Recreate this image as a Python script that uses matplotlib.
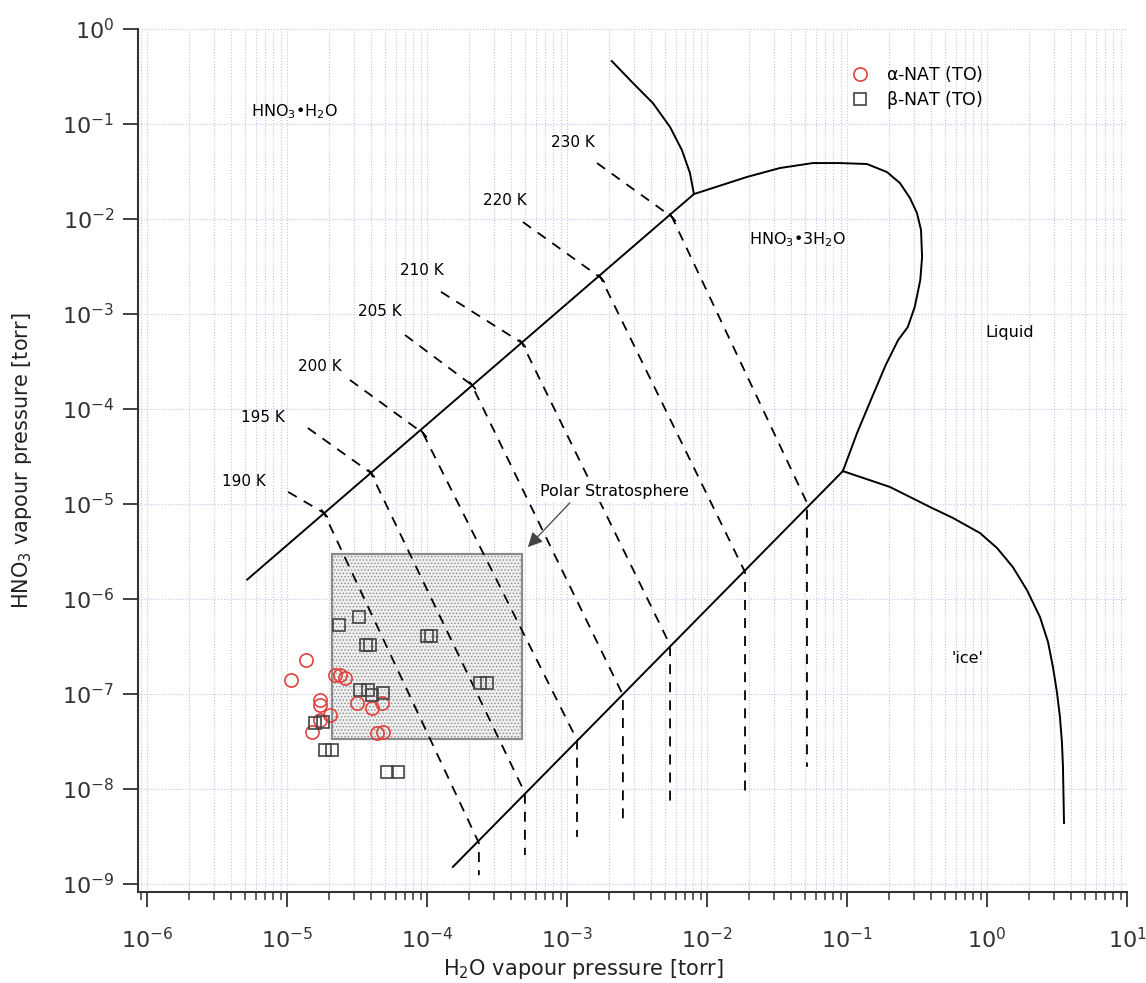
import numpy as np
import matplotlib
matplotlib.use('Agg')
import matplotlib.pyplot as plt
from matplotlib.patches import Rectangle

plt.rcParams['font.family'] = ['DejaVu Sans']
plt.rcParams['mathtext.default'] = 'regular'
plt.rcParams['hatch.linewidth'] = 0.6

# Phasegrenzen (torr)
nam_nat_x = [5.2e-6, 8.07e-3]
nam_nat_y = [1.6e-6, 1.83e-2]

liq_nam_x = [2.09e-3, 2.96e-3, 4.11e-3, 5.45e-3, 6.62e-3, 7.56e-3, 8.07e-3]
liq_nam_y = [0.46, 0.270, 0.166, 0.093, 0.0532, 0.0305, 0.0183]

liq_nat_x = [8.07e-3, 1.10e-2, 1.93e-2, 3.32e-2, 5.71e-2, 8.91e-2, 0.139, 0.193, 0.239,
             0.282, 0.316, 0.338, 0.344, 0.334, 0.305, 0.272, 0.232, 0.189, 0.148,
             0.118, 9.35e-2]
liq_nat_y = [1.83e-2, 2.12e-2, 2.77e-2, 3.44e-2, 3.88e-2, 3.88e-2, 3.79e-2, 3.12e-2, 2.39e-2,
             1.66e-2, 1.16e-2, 7.66e-3, 3.98e-3, 2.28e-3, 1.19e-3, 7.29e-4, 5.32e-4, 2.90e-4,
             1.24e-4, 5.58e-5, 2.22e-5]

nat_ice_x = [1.53e-4, 9.35e-2]
nat_ice_y = [1.51e-9, 2.22e-5]

ice_liq_x = [9.35e-2, 0.203, 0.392, 0.571, 0.891, 1.18, 1.53, 1.93, 2.39, 2.73, 2.96,
             3.16, 3.32, 3.43, 3.49, 3.55]
ice_liq_y = [2.22e-5, 1.51e-5, 9.29e-6, 7.13e-6, 4.95e-6, 3.44e-6, 2.17e-6, 1.24e-6, 6.47e-7,
             3.52e-7, 1.92e-7, 1.05e-7, 5.73e-8, 3.13e-8, 1.71e-8, 4.39e-9]

# Isothermen: begin, kruising NAM/NAT, kruising NAT/ijs, eind
iso_labels = ['190 K', '195 K', '200 K', '205 K', '210 K', '220 K', '230 K']
iso_x = [
    [1.02e-5, 1.84e-5, 2.35e-4, 2.35e-4],
    [1.41e-5, 3.98e-5, 5.01e-4, 5.01e-4],
    [2.82e-5, 9.35e-5, 1.18e-3, 1.18e-3],
    [6.97e-5, 2.09e-4, 2.51e-3, 2.51e-3],
    [1.26e-4, 4.78e-4, 5.45e-3, 5.45e-3],
    [4.85e-4, 1.75e-3, 1.87e-2, 1.87e-2],
    [1.64e-3, 5.62e-3, 5.18e-2, 5.18e-2],
]
iso_y = [
    [1.34e-5, 8.04e-6, 2.70e-9, 1.24e-9],
    [6.31e-5, 2.12e-5, 9.08e-9, 2.02e-9],
    [2.02e-4, 5.58e-5, 3.28e-8, 3.13e-9],
    [6.01e-4, 1.79e-4, 9.75e-8, 4.50e-9],
    [1.71e-3, 4.95e-4, 3.28e-7, 7.13e-9],
    [9.29e-3, 2.39e-3, 1.92e-6, 9.08e-9],
    [3.88e-2, 1.05e-2, 1.03e-5, 1.71e-8],
]
iso_label_x = [4.93e-6, 6.75e-6, 1.72e-5, 4.61e-5, 9.2e-5, 3.61e-4, 1.10e-3]
iso_label_y = [1.71e-5, 8.04e-5, 2.77e-4, 1.05e-3, 2.9e-3, 1.58e-2, 6.31e-2]

# Meetpunten
alpha_x = [1.07e-5, 1.37e-5, 2.20e-5, 2.39e-5, 2.59e-5, 1.72e-5, 1.72e-5, 2.03e-5,
           1.72e-5, 1.51e-5, 3.16e-5, 4.05e-5, 4.78e-5, 4.40e-5, 4.85e-5]
alpha_y = [1.40e-7, 2.28e-7, 1.58e-7, 1.58e-7, 1.47e-7, 8.65e-8, 7.66e-8, 6.01e-8,
           5.32e-8, 3.98e-8, 8.04e-8, 7.13e-8, 8.04e-8, 3.88e-8, 3.98e-8]

beta_x = [2.35e-5, 3.27e-5, 3.66e-5, 3.92e-5, 1.0e-4, 1.07e-4, 3.32e-5, 3.79e-5, 4.05e-5,
          4.85e-5, 2.39e-4, 2.69e-4, 1.58e-5, 1.81e-5, 1.87e-5, 2.10e-5, 5.18e-5, 6.21e-5]
beta_y = [5.32e-7, 6.47e-7, 3.28e-7, 3.28e-7, 4.08e-7, 4.08e-7, 1.10e-7, 1.10e-7, 9.75e-8,
          1.03e-7, 1.31e-7, 1.31e-7, 4.95e-8, 5.07e-8, 2.58e-8, 2.58e-8, 1.51e-8, 1.51e-8]

# Polaire stratosfeer (x0, x1, y0, y1) en pijl (staart -> punt)
strat_x = [2.1e-5, 4.78e-4]
strat_y = [3.36e-8, 2.98e-6]
pijl_x = [1.05e-3, 5.26e-4]
pijl_y = [1.03e-5, 3.52e-6]

fig = plt.figure(figsize=(11.46, 9.83), dpi=100)
ax = fig.add_axes([0.1204, 0.0926, 0.8630, 0.8779])
ax.set_xscale('log')
ax.set_yscale('log')
ax.set_xlim(10 ** -6.064, 10.0)
ax.set_ylim(10 ** -9.084, 1.0)

ax.grid(True, which='both', color='#c2c2ee', linestyle=':', linewidth=0.8)
ax.set_axisbelow(True)

box = Rectangle((strat_x[0], strat_y[0]), strat_x[1] - strat_x[0], strat_y[1] - strat_y[0],
                facecolor='#efefef', edgecolor='#8a8a8a', hatch='.....', linewidth=1.6, zorder=2)
ax.add_patch(box)

kw = dict(color='black', linewidth=1.4, zorder=3, solid_joinstyle='round')
ax.plot(nam_nat_x, nam_nat_y, **kw)
ax.plot(liq_nam_x, liq_nam_y, **kw)
ax.plot(liq_nat_x, liq_nat_y, **kw)
ax.plot(nat_ice_x, nat_ice_y, **kw)
ax.plot(ice_liq_x, ice_liq_y, **kw)

for xs, ys, lab, lx, ly in zip(iso_x, iso_y, iso_labels, iso_label_x, iso_label_y):
    ax.plot(xs, ys, color='black', linestyle=(0, (5.5, 4.5)), linewidth=1.3, zorder=3)
    ax.plot(xs[1], ys[1], marker=(2, 2, 40), markersize=7, color='black', mew=1.0, zorder=3)
    ax.text(lx, ly, lab, fontsize=11, ha='center', va='center')

ax.plot(alpha_x, alpha_y, linestyle='none', marker='o', markersize=9.5, mfc='none',
        mec='#e0433d', mew=1.2, zorder=4, label=r'$\alpha$-NAT (TO)')
ax.plot(beta_x, beta_y, linestyle='none', marker='s', markersize=8.5, mfc='none',
        mec='#444444', mew=1.2, zorder=4, label=r'$\beta$-NAT (TO)')

ax.text(1.14e-5, 0.134, r'HNO$_3$•H$_2$O', fontsize=11.5, ha='center', va='center')
ax.text(4.4e-2, 6.01e-3, r'HNO$_3$•3H$_2$O', fontsize=11.5, ha='center', va='center')
ax.text(1.46, 6.31e-4, 'Liquid', fontsize=11.5, ha='center', va='center')
ax.text(0.731, 2.39e-7, "'ice'", fontsize=11.5, ha='center', va='center')

ax.text(2.2e-3, 1.34e-5, 'Polar Stratosphere', fontsize=11.5, ha='center', va='center',
        zorder=5, bbox=dict(facecolor='white', edgecolor='none', pad=2))
ax.annotate('', xy=(pijl_x[1], pijl_y[1]), xytext=(pijl_x[0], pijl_y[0]), zorder=5,
            arrowprops=dict(arrowstyle='-|>', color='#444444', lw=0.9,
                            mutation_scale=22, shrinkA=0, shrinkB=0))

leg = ax.legend(loc='upper left', bbox_to_anchor=(0.697, 0.977), frameon=False,
                fontsize=12.5, handletextpad=0.5, labelspacing=0.25)

for s in ['top', 'right']:
    ax.spines[s].set_visible(False)
for s in ['left', 'bottom']:
    ax.spines[s].set_linewidth(1.5)
    ax.spines[s].set_color('#333333')

ax.tick_params(which='major', direction='out', length=11, width=1.3, labelsize=16, colors='#333333')
ax.tick_params(which='minor', direction='out', length=6, width=1.1, colors='#333333')
ax.tick_params(axis='y', which='major', pad=6)
ax.tick_params(axis='x', which='major', pad=14)
ax.set_xticks([10.0 ** k for k in range(-6, 2)])
ax.set_yticks([10.0 ** k for k in range(-9, 1)])

ax.set_xlabel(r'H$_2$O vapour pressure [torr]', fontsize=15, color='#222222')
ax.xaxis.set_label_coords(0.45, -0.075)
ax.set_ylabel(r'HNO$_3$ vapour pressure [torr]', fontsize=15, color='#222222')
ax.yaxis.set_label_coords(-0.105, 0.5)

fig.savefig('out.png', dpi=100)
